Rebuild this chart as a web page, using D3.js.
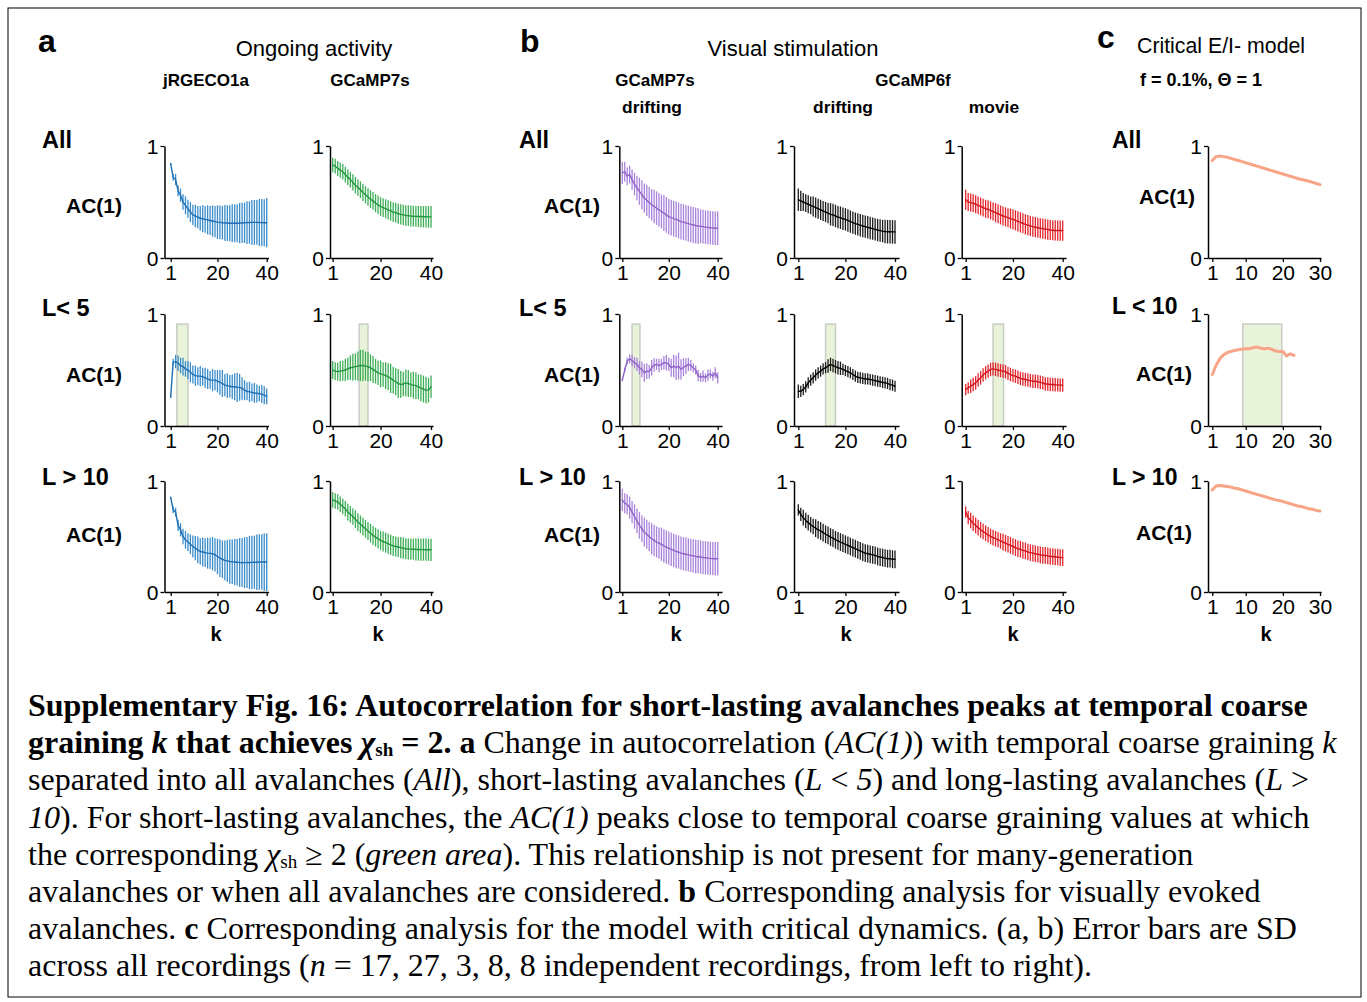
<!DOCTYPE html>
<html>
<head>
<meta charset="utf-8">
<script src="https://cdnjs.cloudflare.com/ajax/libs/d3/7.8.5/d3.min.js"></script>
<style>
  body { margin: 0; background: #fff; }
  svg { display: block; }
</style>
</head>
<body>
<svg width="1367" height="1002"></svg>
<script>
// ---- data ----
const kExp = d3.range(1, 41);
const kModel = d3.range(1, 31);
const xTicksExp = [1, 20, 40];
const xTicksModel = [1, 10, 20, 30];
const yTicks = [0, 1];

// a: ongoing activity
const jrgAllMean = [0.84, 0.72, 0.70, 0.60, 0.56, 0.50, 0.47, 0.44, 0.41, 0.385, 0.375, 0.365, 0.355, 0.35, 0.345, 0.34, 0.335, 0.33, 0.325, 0.32, 0.318, 0.315, 0.313, 0.312, 0.31, 0.31, 0.31, 0.31, 0.312, 0.313, 0.315, 0.316, 0.317, 0.318, 0.318, 0.318, 0.317, 0.316, 0.315, 0.315];
const jrgAllSd = [0.01, 0.03, 0.05, 0.05, 0.06, 0.07, 0.08, 0.08, 0.09, 0.09, 0.10, 0.10, 0.11, 0.12, 0.12, 0.13, 0.13, 0.14, 0.14, 0.15, 0.15, 0.15, 0.16, 0.16, 0.16, 0.17, 0.17, 0.17, 0.18, 0.18, 0.18, 0.19, 0.19, 0.20, 0.20, 0.20, 0.21, 0.21, 0.21, 0.22];
const g7AllMean = [0.83, 0.82, 0.80, 0.785, 0.77, 0.745, 0.72, 0.70, 0.675, 0.65, 0.63, 0.61, 0.585, 0.565, 0.545, 0.525, 0.51, 0.49, 0.475, 0.46, 0.45, 0.44, 0.43, 0.42, 0.41, 0.405, 0.395, 0.39, 0.385, 0.38, 0.378, 0.375, 0.373, 0.372, 0.37, 0.37, 0.368, 0.368, 0.367, 0.367];
const g7AllSd = [0.065, 0.066, 0.067, 0.068, 0.069, 0.07, 0.07, 0.071, 0.072, 0.073, 0.074, 0.075, 0.076, 0.077, 0.078, 0.079, 0.08, 0.081, 0.082, 0.083, 0.084, 0.085, 0.086, 0.087, 0.088, 0.089, 0.09, 0.09, 0.091, 0.092, 0.092, 0.093, 0.093, 0.094, 0.094, 0.095, 0.095, 0.096, 0.096, 0.097];
const jrgShortMean = [0.26, 0.57, 0.575, 0.56, 0.54, 0.53, 0.51, 0.50, 0.48, 0.46, 0.45, 0.445, 0.445, 0.44, 0.43, 0.42, 0.41, 0.41, 0.41, 0.40, 0.39, 0.38, 0.365, 0.36, 0.355, 0.35, 0.35, 0.345, 0.345, 0.335, 0.32, 0.31, 0.305, 0.30, 0.295, 0.29, 0.29, 0.285, 0.275, 0.265];
const jrgShortSd = [0.01, 0.03, 0.06, 0.07, 0.07, 0.08, 0.07, 0.08, 0.09, 0.08, 0.09, 0.08, 0.09, 0.08, 0.09, 0.09, 0.08, 0.10, 0.09, 0.10, 0.11, 0.12, 0.10, 0.11, 0.10, 0.11, 0.12, 0.13, 0.12, 0.10, 0.09, 0.08, 0.09, 0.08, 0.09, 0.08, 0.07, 0.08, 0.08, 0.07];
const g7ShortMean = [0.50, 0.49, 0.485, 0.49, 0.495, 0.50, 0.51, 0.52, 0.525, 0.53, 0.535, 0.54, 0.54, 0.535, 0.53, 0.52, 0.505, 0.49, 0.475, 0.465, 0.46, 0.45, 0.44, 0.425, 0.41, 0.395, 0.38, 0.37, 0.375, 0.385, 0.38, 0.37, 0.365, 0.36, 0.35, 0.34, 0.33, 0.32, 0.32, 0.35];
const g7ShortSd = [0.08, 0.08, 0.08, 0.09, 0.09, 0.10, 0.10, 0.11, 0.12, 0.12, 0.13, 0.14, 0.14, 0.13, 0.13, 0.12, 0.12, 0.11, 0.11, 0.12, 0.11, 0.12, 0.12, 0.13, 0.12, 0.12, 0.13, 0.12, 0.11, 0.12, 0.12, 0.11, 0.12, 0.12, 0.11, 0.12, 0.12, 0.12, 0.11, 0.10];
const jrgLongMean = [0.85, 0.74, 0.72, 0.60, 0.56, 0.50, 0.47, 0.45, 0.43, 0.41, 0.395, 0.38, 0.365, 0.36, 0.355, 0.35, 0.348, 0.345, 0.335, 0.32, 0.305, 0.295, 0.285, 0.28, 0.275, 0.272, 0.27, 0.268, 0.266, 0.265, 0.265, 0.265, 0.266, 0.267, 0.268, 0.268, 0.27, 0.27, 0.27, 0.27];
const jrgLongSd = [0.01, 0.03, 0.04, 0.05, 0.06, 0.07, 0.08, 0.08, 0.09, 0.10, 0.11, 0.12, 0.12, 0.13, 0.13, 0.14, 0.14, 0.15, 0.15, 0.16, 0.17, 0.17, 0.18, 0.19, 0.20, 0.20, 0.21, 0.21, 0.22, 0.22, 0.23, 0.23, 0.24, 0.24, 0.24, 0.25, 0.25, 0.25, 0.26, 0.26];
const g7LongMean = [0.83, 0.82, 0.81, 0.79, 0.77, 0.75, 0.72, 0.70, 0.68, 0.655, 0.63, 0.61, 0.59, 0.57, 0.55, 0.53, 0.51, 0.495, 0.48, 0.465, 0.455, 0.445, 0.435, 0.425, 0.415, 0.41, 0.405, 0.40, 0.395, 0.39, 0.388, 0.386, 0.385, 0.384, 0.383, 0.382, 0.382, 0.381, 0.381, 0.38];
const g7LongSd = [0.07, 0.07, 0.07, 0.07, 0.07, 0.07, 0.075, 0.075, 0.075, 0.08, 0.08, 0.08, 0.08, 0.08, 0.08, 0.085, 0.085, 0.085, 0.085, 0.085, 0.09, 0.09, 0.09, 0.09, 0.09, 0.09, 0.09, 0.095, 0.095, 0.095, 0.095, 0.095, 0.095, 0.10, 0.10, 0.10, 0.10, 0.10, 0.10, 0.10];

// b: visual stimulation
const g7dAllMean = [0.76, 0.77, 0.73, 0.745, 0.70, 0.66, 0.625, 0.595, 0.565, 0.535, 0.515, 0.495, 0.475, 0.46, 0.445, 0.43, 0.415, 0.40, 0.385, 0.37, 0.36, 0.352, 0.345, 0.335, 0.325, 0.32, 0.313, 0.307, 0.30, 0.295, 0.29, 0.286, 0.283, 0.28, 0.276, 0.273, 0.27, 0.268, 0.266, 0.265];
const g7dAllSd = [0.10, 0.09, 0.08, 0.08, 0.09, 0.10, 0.11, 0.12, 0.13, 0.13, 0.14, 0.14, 0.14, 0.15, 0.15, 0.15, 0.15, 0.16, 0.16, 0.16, 0.16, 0.16, 0.16, 0.16, 0.16, 0.16, 0.16, 0.16, 0.16, 0.16, 0.16, 0.16, 0.15, 0.15, 0.15, 0.15, 0.15, 0.15, 0.15, 0.15];
const g6dAllMean = [0.52, 0.51, 0.50, 0.49, 0.48, 0.47, 0.46, 0.45, 0.44, 0.43, 0.42, 0.41, 0.40, 0.39, 0.385, 0.375, 0.365, 0.36, 0.35, 0.345, 0.335, 0.325, 0.316, 0.307, 0.30, 0.293, 0.286, 0.28, 0.274, 0.268, 0.262, 0.256, 0.25, 0.245, 0.24, 0.237, 0.235, 0.234, 0.233, 0.233];
const g6dAllSd = [0.10, 0.09, 0.08, 0.08, 0.08, 0.08, 0.09, 0.09, 0.09, 0.09, 0.09, 0.09, 0.09, 0.10, 0.10, 0.10, 0.10, 0.10, 0.10, 0.10, 0.10, 0.10, 0.10, 0.10, 0.10, 0.10, 0.10, 0.10, 0.10, 0.10, 0.10, 0.10, 0.10, 0.10, 0.10, 0.105, 0.105, 0.105, 0.105, 0.105];
const g6mAllMean = [0.52, 0.50, 0.495, 0.49, 0.48, 0.47, 0.46, 0.45, 0.44, 0.435, 0.425, 0.415, 0.405, 0.395, 0.385, 0.375, 0.367, 0.36, 0.352, 0.345, 0.336, 0.327, 0.318, 0.31, 0.30, 0.293, 0.287, 0.28, 0.275, 0.27, 0.266, 0.262, 0.258, 0.254, 0.25, 0.248, 0.246, 0.245, 0.245, 0.245];
const g6mAllSd = [0.09, 0.08, 0.08, 0.08, 0.08, 0.08, 0.08, 0.08, 0.08, 0.08, 0.08, 0.08, 0.085, 0.085, 0.085, 0.085, 0.085, 0.085, 0.09, 0.09, 0.09, 0.09, 0.09, 0.09, 0.09, 0.09, 0.09, 0.09, 0.09, 0.09, 0.09, 0.09, 0.09, 0.09, 0.09, 0.09, 0.09, 0.09, 0.09, 0.09];
const g7dShortMean = [0.41, 0.50, 0.58, 0.60, 0.585, 0.565, 0.55, 0.52, 0.505, 0.475, 0.49, 0.485, 0.52, 0.545, 0.55, 0.54, 0.55, 0.565, 0.565, 0.55, 0.52, 0.535, 0.52, 0.535, 0.505, 0.525, 0.535, 0.55, 0.54, 0.52, 0.50, 0.45, 0.435, 0.445, 0.43, 0.455, 0.465, 0.445, 0.475, 0.43];
const g7dShortSd = [0.01, 0.02, 0.03, 0.04, 0.05, 0.05, 0.06, 0.06, 0.07, 0.08, 0.07, 0.06, 0.07, 0.06, 0.05, 0.06, 0.05, 0.06, 0.07, 0.06, 0.08, 0.10, 0.11, 0.12, 0.09, 0.08, 0.07, 0.06, 0.05, 0.04, 0.04, 0.05, 0.04, 0.05, 0.04, 0.05, 0.04, 0.04, 0.05, 0.05];
const g6dShortMean = [0.31, 0.31, 0.325, 0.35, 0.385, 0.41, 0.43, 0.455, 0.475, 0.49, 0.51, 0.52, 0.535, 0.55, 0.54, 0.53, 0.52, 0.515, 0.505, 0.495, 0.485, 0.475, 0.46, 0.445, 0.435, 0.43, 0.425, 0.42, 0.42, 0.415, 0.41, 0.405, 0.40, 0.395, 0.39, 0.385, 0.38, 0.37, 0.365, 0.355];
const g6dShortSd = [0.06, 0.05, 0.05, 0.05, 0.05, 0.05, 0.05, 0.05, 0.05, 0.05, 0.05, 0.05, 0.06, 0.06, 0.06, 0.06, 0.06, 0.06, 0.05, 0.05, 0.05, 0.05, 0.05, 0.05, 0.05, 0.05, 0.05, 0.05, 0.05, 0.05, 0.05, 0.05, 0.05, 0.05, 0.05, 0.05, 0.05, 0.05, 0.05, 0.05];
const g6mShortMean = [0.325, 0.34, 0.355, 0.37, 0.385, 0.41, 0.43, 0.455, 0.475, 0.49, 0.505, 0.51, 0.505, 0.50, 0.495, 0.49, 0.485, 0.47, 0.46, 0.45, 0.445, 0.435, 0.425, 0.42, 0.415, 0.41, 0.405, 0.40, 0.40, 0.395, 0.39, 0.385, 0.375, 0.375, 0.37, 0.37, 0.368, 0.367, 0.365, 0.365];
const g6mShortSd = [0.05, 0.05, 0.06, 0.06, 0.06, 0.06, 0.06, 0.06, 0.06, 0.06, 0.06, 0.06, 0.06, 0.06, 0.06, 0.06, 0.06, 0.06, 0.06, 0.06, 0.06, 0.06, 0.06, 0.06, 0.06, 0.06, 0.06, 0.06, 0.06, 0.06, 0.06, 0.06, 0.06, 0.06, 0.06, 0.06, 0.06, 0.06, 0.06, 0.06];
const g7dLongMean = [0.83, 0.80, 0.79, 0.76, 0.72, 0.68, 0.64, 0.60, 0.57, 0.54, 0.52, 0.50, 0.48, 0.465, 0.45, 0.44, 0.43, 0.415, 0.405, 0.395, 0.385, 0.375, 0.365, 0.36, 0.35, 0.345, 0.34, 0.335, 0.33, 0.325, 0.32, 0.318, 0.315, 0.31, 0.308, 0.305, 0.303, 0.30, 0.30, 0.30];
const g7dLongSd = [0.10, 0.09, 0.09, 0.10, 0.10, 0.11, 0.11, 0.12, 0.12, 0.13, 0.13, 0.13, 0.14, 0.14, 0.14, 0.14, 0.15, 0.15, 0.15, 0.15, 0.15, 0.15, 0.15, 0.15, 0.15, 0.15, 0.15, 0.15, 0.15, 0.15, 0.15, 0.15, 0.15, 0.15, 0.15, 0.15, 0.15, 0.15, 0.15, 0.15];
const g6dLongMean = [0.74, 0.70, 0.67, 0.645, 0.625, 0.605, 0.59, 0.575, 0.56, 0.55, 0.535, 0.52, 0.51, 0.495, 0.485, 0.47, 0.46, 0.45, 0.44, 0.43, 0.42, 0.41, 0.40, 0.39, 0.38, 0.37, 0.36, 0.35, 0.345, 0.34, 0.335, 0.33, 0.32, 0.315, 0.31, 0.305, 0.30, 0.30, 0.295, 0.295];
const g6dLongSd = [0.05, 0.06, 0.07, 0.07, 0.07, 0.07, 0.07, 0.08, 0.08, 0.08, 0.08, 0.08, 0.08, 0.08, 0.08, 0.08, 0.08, 0.08, 0.08, 0.08, 0.08, 0.08, 0.08, 0.08, 0.08, 0.08, 0.08, 0.08, 0.08, 0.08, 0.08, 0.08, 0.08, 0.08, 0.08, 0.08, 0.08, 0.08, 0.08, 0.08];
const g6mLongMean = [0.72, 0.67, 0.645, 0.62, 0.60, 0.58, 0.56, 0.545, 0.53, 0.515, 0.50, 0.49, 0.48, 0.47, 0.46, 0.45, 0.44, 0.43, 0.42, 0.41, 0.40, 0.39, 0.385, 0.375, 0.37, 0.36, 0.355, 0.35, 0.345, 0.34, 0.335, 0.33, 0.33, 0.325, 0.32, 0.32, 0.315, 0.315, 0.31, 0.31];
const g6mLongSd = [0.05, 0.06, 0.07, 0.07, 0.07, 0.07, 0.07, 0.07, 0.07, 0.07, 0.07, 0.07, 0.07, 0.07, 0.07, 0.075, 0.075, 0.075, 0.075, 0.075, 0.075, 0.075, 0.075, 0.075, 0.075, 0.075, 0.075, 0.075, 0.075, 0.075, 0.075, 0.075, 0.075, 0.075, 0.075, 0.075, 0.075, 0.075, 0.075, 0.075];

// c: critical E/I model
const modelAll = [0.87, 0.905, 0.91, 0.905, 0.90, 0.89, 0.88, 0.87, 0.86, 0.85, 0.84, 0.83, 0.82, 0.81, 0.80, 0.79, 0.78, 0.77, 0.76, 0.75, 0.74, 0.73, 0.72, 0.71, 0.70, 0.695, 0.685, 0.675, 0.665, 0.655];
const modelShort = [0.46, 0.54, 0.60, 0.635, 0.655, 0.665, 0.675, 0.68, 0.685, 0.69, 0.69, 0.70, 0.705, 0.695, 0.69, 0.695, 0.685, 0.67, 0.665, 0.665, 0.625, 0.645, 0.63];
const modelLong = [0.92, 0.955, 0.96, 0.955, 0.95, 0.945, 0.935, 0.93, 0.92, 0.91, 0.90, 0.89, 0.88, 0.87, 0.86, 0.85, 0.84, 0.83, 0.825, 0.815, 0.805, 0.795, 0.785, 0.775, 0.77, 0.76, 0.75, 0.745, 0.735, 0.73];

// green areas (k range where chi_sh >= 2), top of area in AC units
const bandJrg = [3.5, 8];
const bandG7 = [11.5, 15];
const bandG7d = [5, 8.2];
const bandG6d = [12, 16];
const bandG6m = [12, 16.2];
const bandModel = [9.2, 19.7];
const bandTop = 0.91;

// ---- layout ----
const svg = d3.select('svg');
const sans = "'Liberation Sans', Arial, sans-serif";
const serif = "'Liberation Serif', 'Times New Roman', serif";

// columns: y-axis x, x of first and last k, end of x axis
const cols = {
  a1: { axisX: 164.5, kA: 170.7, kB: 266.7, endX: 268.5, kLo: 1, kHi: 40 },
  a2: { axisX: 330, kA: 332.7, kB: 431, endX: 433, kLo: 1, kHi: 40 },
  b1: { axisX: 619.3, kA: 622.3, kB: 717.7, endX: 722, kLo: 1, kHi: 40 },
  b2: { axisX: 794, kA: 798.3, kB: 895, endX: 899, kLo: 1, kHi: 40 },
  b3: { axisX: 961.7, kA: 965.7, kB: 1062.7, endX: 1066, kLo: 1, kHi: 40 },
  c: { axisX: 1208, kA: 1212.3, kB: 1320, endX: 1321, kLo: 1, kHi: 30 }
};
// rows: pixel y of AC = 1 and AC = 0
const rows = [
  { top: 146, bot: 258 },
  { top: 314, bot: 426 },
  { top: 481, bot: 592 }
];

svg.append('rect')
  .attr('x', 8).attr('y', 8)
  .attr('width', 1353).attr('height', 989)
  .attr('fill', 'none').attr('stroke', '#000').attr('stroke-width', 1);

function drawPanel(col, row, opts) {
  const c = cols[col];
  const r = rows[row];
  const base = d3.scaleLinear().domain([c.kLo, c.kHi]).range([c.kA, c.kB]);
  const x = d3.scaleLinear()
    .domain([base.invert(c.axisX), base.invert(c.endX)])
    .range([c.axisX, c.endX]);
  const y = d3.scaleLinear().domain([0, 1]).range([r.bot, r.top]);
  const g = svg.append('g');

  if (opts.band) {
    g.append('rect')
      .attr('x', x(opts.band[0]))
      .attr('y', y(bandTop))
      .attr('width', x(opts.band[1]) - x(opts.band[0]))
      .attr('height', y(0) - y(bandTop))
      .attr('fill', '#e9f3da')
      .attr('stroke', '#c9ccc4')
      .attr('stroke-width', 1.5);
  }

  const ks = opts.k.slice(0, opts.mean.length);
  if (opts.sd) {
    g.append('g')
      .selectAll('line')
      .data(ks)
      .join('line')
      .attr('x1', (d) => x(d))
      .attr('x2', (d) => x(d))
      .attr('y1', (d, i) => y(opts.mean[i] - opts.sd[i]))
      .attr('y2', (d, i) => y(opts.mean[i] + opts.sd[i]))
      .attr('stroke', opts.barColor)
      .attr('stroke-width', 1.3);
  }

  const line = d3.line()
    .x((d) => x(d))
    .y((d, i) => y(opts.mean[i]));
  g.append('path')
    .datum(ks)
    .attr('d', line)
    .attr('fill', 'none')
    .attr('stroke', opts.color)
    .attr('stroke-width', opts.lineWidth || 1.4)
    .attr('stroke-linejoin', 'round')
    .attr('stroke-linecap', 'round');

  const xAxis = g.append('g')
    .attr('transform', `translate(0,${r.bot})`)
    .call(d3.axisBottom(x).tickValues(opts.xTicks).tickFormat(d3.format('d'))
      .tickSize(4).tickSizeOuter(0).tickPadding(3));
  const yAxis = g.append('g')
    .attr('transform', `translate(${c.axisX},0)`)
    .call(d3.axisLeft(y).tickValues(yTicks).tickFormat(d3.format('d'))
      .tickSize(4).tickSizeOuter(0).tickPadding(2));
  [xAxis, yAxis].forEach((ax) => {
    ax.attr('font-family', sans).attr('font-size', 21);
    ax.select('.domain').attr('stroke', '#000').attr('stroke-width', 1.5);
    ax.selectAll('.tick line').attr('stroke', '#000').attr('stroke-width', 1.3);
    ax.selectAll('.tick text').attr('fill', '#000');
  });
  yAxis.selectAll('.tick text').attr('dy', '0.36em');
}

const blue = { color: '#1f6fb4', barColor: '#3a8ccb' };
const green = { color: '#22973f', barColor: '#3cae56' };
const purple = { color: '#8f63c8', barColor: '#a983dc' };
const black = { color: '#000', barColor: '#1a1a1a' };
const red = { color: '#d3121b', barColor: '#e2252c' };
const salmon = '#f7a487';

const expPanels = [
  ['a1', 0, jrgAllMean, jrgAllSd, blue, null],
  ['a2', 0, g7AllMean, g7AllSd, green, null],
  ['a1', 1, jrgShortMean, jrgShortSd, blue, bandJrg],
  ['a2', 1, g7ShortMean, g7ShortSd, green, bandG7],
  ['a1', 2, jrgLongMean, jrgLongSd, blue, null],
  ['a2', 2, g7LongMean, g7LongSd, green, null],
  ['b1', 0, g7dAllMean, g7dAllSd, purple, null],
  ['b2', 0, g6dAllMean, g6dAllSd, black, null],
  ['b3', 0, g6mAllMean, g6mAllSd, red, null],
  ['b1', 1, g7dShortMean, g7dShortSd, purple, bandG7d],
  ['b2', 1, g6dShortMean, g6dShortSd, black, bandG6d],
  ['b3', 1, g6mShortMean, g6mShortSd, red, bandG6m],
  ['b1', 2, g7dLongMean, g7dLongSd, purple, null],
  ['b2', 2, g6dLongMean, g6dLongSd, black, null],
  ['b3', 2, g6mLongMean, g6mLongSd, red, null]
];
expPanels.forEach(([col, row, mean, sd, pal, band]) => {
  drawPanel(col, row, { k: kExp, mean, sd, color: pal.color, barColor: pal.barColor, band, xTicks: xTicksExp });
});

[[0, modelAll, null], [1, modelShort, bandModel], [2, modelLong, null]].forEach(([row, mean, band]) => {
  drawPanel('c', row, { k: kModel, mean, color: salmon, lineWidth: 3, band, xTicks: xTicksModel });
});

// ---- labels ----
function label(text, x, y, size, opts = {}) {
  return svg.append('text')
    .attr('x', x).attr('y', y)
    .attr('font-family', sans)
    .attr('font-size', size)
    .attr('font-weight', opts.weight || 'bold')
    .attr('text-anchor', opts.anchor || 'start')
    .text(text);
}

label('a', 38, 52, 32);
label('b', 520, 52, 32);
label('c', 1097, 48, 32);

label('Ongoing activity', 314, 56, 22, { anchor: 'middle', weight: 'normal' });
label('Visual stimulation', 793, 56, 22, { anchor: 'middle', weight: 'normal' });
label('Critical E/I- model', 1137, 53, 21.3, { weight: 'normal' });

label('jRGECO1a', 206, 86, 17, { anchor: 'middle' });
label('GCaMP7s', 370, 86, 17, { anchor: 'middle' });
label('GCaMP7s', 655, 86, 17, { anchor: 'middle' });
label('drifting', 652, 113, 17.4, { anchor: 'middle' });
label('GCaMP6f', 913, 86, 17, { anchor: 'middle' });
label('drifting', 843, 113, 17.4, { anchor: 'middle' });
label('movie', 994, 113, 17.4, { anchor: 'middle' });
label('f = 0.1%, \u0398 = 1', 1140, 86, 18);

const rowNames = ['All', 'L< 5', 'L > 10'];
const rowNamesModel = ['All', 'L < 10', 'L > 10'];
const rowNameY = [147.5, 316, 484.5];
const acY = [212.5, 381.5, 541.5];
const acYModel = [203.5, 380.5, 539.5];
rowNames.forEach((t, i) => {
  label(t, 42, rowNameY[i], 23.5);
  label(t, 519, rowNameY[i], 23.5);
  label('AC(1)', 66, acY[i], 21);
  label('AC(1)', 544, acY[i], 21);
});
rowNamesModel.forEach((t, i) => {
  label(t, 1112, rowNameY[i] - (i === 1 ? 2.5 : 0), 23);
  label('AC(1)', i === 0 ? 1139 : 1136, acYModel[i], 21);
});
[216, 378, 676, 846, 1013, 1266].forEach((xk) => {
  label('k', xk, 641, 20, { anchor: 'middle' });
});

// ---- caption ----
const capLines = [
  [['Supplementary Fig. 16: Autocorrelation for short-lasting avalanches peaks at temporal coarse', 'b']],
  [['graining ', 'b'], ['k', 'bi'], [' that achieves ', 'b'], ['\u03c7', 'bi'], ['sh', 'bs'], [' = 2. a', 'b'],
   [' Change in autocorrelation (', ''], ['AC(1)', 'i'], [') with temporal coarse graining ', ''], ['k', 'i']],
  [['separated into all avalanches (', ''], ['All', 'i'], ['), short-lasting avalanches (', ''], ['L', 'i'], [' < ', ''],
   ['5', 'i'], [') and long-lasting avalanches (', ''], ['L', 'i'], [' >', '']],
  [['10', 'i'], ['). For short-lasting avalanches, the ', ''], ['AC(1)', 'i'], [' peaks close to temporal coarse graining values at which', '']],
  [['the corresponding ', ''], ['\u03c7', 'i'], ['sh', 's'], [' \u2265 2 (', ''], ['green area', 'i'], ['). This relationship is not present for many-generation', '']],
  [['avalanches or when all avalanches are considered. ', ''], ['b', 'b'], [' Corresponding analysis for visually evoked', '']],
  [['avalanches. ', ''], ['c', 'b'], [' Corresponding analysis for the model with critical dynamics. (a, b) Error bars are SD', '']],
  [['across all recordings (', ''], ['n', 'i'], [' = 17, 27, 3, 8, 8 independent recordings, from left to right).', '']]
];
const capY0 = 716;
const capStep = 37.2;
const subShift = 3;
capLines.forEach((parts, i) => {
  const t = svg.append('text')
    .attr('x', 28)
    .attr('y', capY0 + i * capStep)
    .attr('font-family', serif)
    .attr('font-size', 32)
    .attr('fill', '#000');
  let lowered = false;
  parts.forEach(([s, st]) => {
    const sp = t.append('tspan').text(s);
    if (st.includes('b')) sp.attr('font-weight', 'bold');
    if (st.includes('i')) sp.attr('font-style', 'italic');
    if (st.includes('s')) {
      sp.attr('font-size', 19).attr('dy', subShift);
      lowered = true;
    } else if (lowered) {
      sp.attr('dy', -subShift);
      lowered = false;
    }
  });
});
</script>
</body>
</html>
